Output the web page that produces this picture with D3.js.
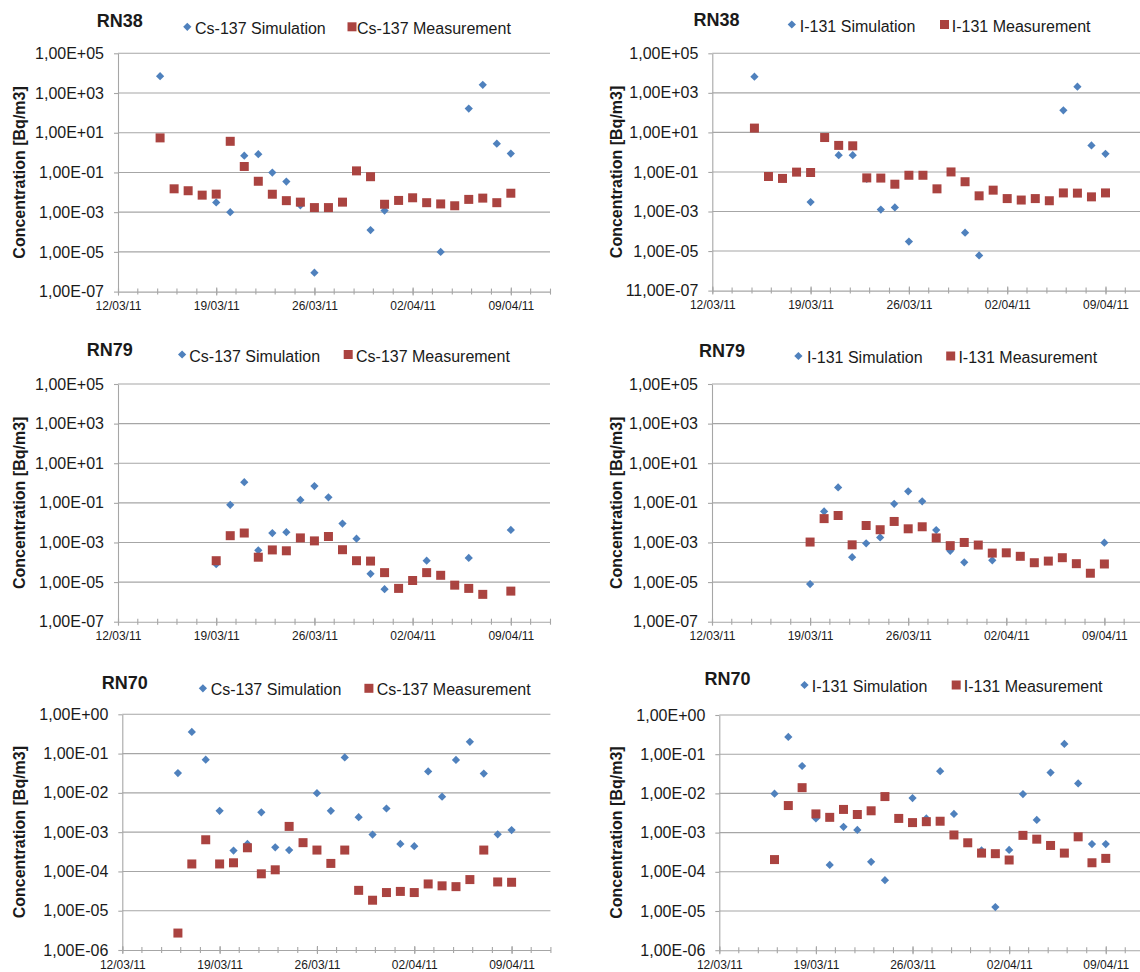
<!DOCTYPE html>
<html>
<head>
<meta charset="utf-8">
<script src="https://cdn.jsdelivr.net/npm/d3@7"></script>
<style>
body { margin: 0; background: #fff; }
text { font-family: "Liberation Sans", Arial, sans-serif; fill: #1a1a1a; }
</style>
</head>
<body>
<div id="chart"></div>
<script>
// days with samples (RN38 / RN79)
var dates = ["15/03/11","16/03/11","17/03/11","18/03/11","19/03/11","20/03/11","21/03/11","22/03/11",
    "23/03/11","24/03/11","25/03/11","26/03/11","27/03/11","28/03/11","29/03/11","30/03/11","31/03/11",
    "01/04/11","02/04/11","03/04/11","04/04/11","05/04/11","06/04/11","07/04/11","08/04/11","09/04/11"]
// days with samples (RN70)
var dates70 = ["16/03/11","17/03/11","18/03/11","19/03/11","20/03/11","21/03/11","22/03/11",
    "23/03/11","24/03/11","25/03/11","26/03/11","27/03/11","28/03/11","29/03/11","30/03/11","31/03/11",
    "01/04/11","02/04/11","03/04/11","04/04/11","05/04/11","06/04/11","07/04/11","08/04/11","09/04/11"]

var xTickLabels = ["12/03/11","19/03/11","26/03/11","02/04/11","09/04/11"]
var yTicksWide = [1e-7, 1e-5, 1e-3, 1e-1, 1e1, 1e3, 1e5]
var yLabelsWide = ["1,00E-07","1,00E-05","1,00E-03","1,00E-01","1,00E+01","1,00E+03","1,00E+05"]
var yLabelsWideRN38I = ["11,00E-07","1,00E-05","1,00E-03","1,00E-01","1,00E+01","1,00E+03","1,00E+05"]
var yTicksNarrow = [1e-6, 1e-5, 1e-4, 1e-3, 1e-2, 1e-1, 1]
var yLabelsNarrow = ["1,00E-06","1,00E-05","1,00E-04","1,00E-03","1,00E-02","1,00E-01","1,00E+00"]

var rn38CsSim  = [7e3,null,null,null,3.1e-3,1e-3,0.7,0.83,0.098,0.035,2.2e-3,9e-7,null,null,null,1.25e-4,1.2e-3,null,null,null,1e-5,null,166,2600,2.8,0.89]
var rn38CsMeas = [5.5,0.015,0.012,7.2e-3,8.1e-3,3.7,0.2,0.036,8e-3,3.8e-3,3.2e-3,1.7e-3,1.7e-3,3.2e-3,0.12,0.061,2.5e-3,3.9e-3,5.3e-3,3e-3,2.6e-3,2.1e-3,4.4e-3,5.1e-3,3e-3,9e-3]
var rn38ISim   = [6.6e3,null,null,null,3e-3,null,0.7,0.7,0.045,1.25e-3,1.6e-3,3e-5,null,null,null,8.5e-5,6e-6,null,null,null,null,null,130,2050,2.2,0.83]
var rn38IMeas  = [16.5,0.059,0.047,0.098,0.094,5.5,2.2,2.1,0.05,0.049,0.024,0.068,0.068,0.014,0.1,0.032,6.2e-3,0.012,4.5e-3,3.8e-3,4.5e-3,3.5e-3,8.7e-3,8.5e-3,5.5e-3,8.7e-3]

var rn79CsSim  = [null,null,null,null,8e-5,0.08,1.1,4e-4,3e-3,3.3e-3,0.14,0.7,0.19,9e-3,1.55e-3,2.6e-5,4.4e-6,null,null,1.2e-4,null,null,1.65e-4,null,null,4.3e-3]
var rn79CsMeas = [null,null,null,null,1.2e-4,2.2e-3,3e-3,1.8e-4,4.2e-4,3.8e-4,1.7e-3,1.2e-3,2e-3,4.3e-4,1.2e-4,1.15e-4,3e-5,4.8e-6,1.2e-5,3e-5,2.2e-5,7e-6,4.8e-6,2.4e-6,null,3.5e-6]
var rn79ISim   = [null,null,null,null,8e-6,0.037,0.6,1.8e-4,9e-4,1.8e-3,0.09,0.38,0.12,4.2e-3,3.8e-4,1e-4,null,1.25e-4,null,null,null,null,null,null,null,9.7e-4]
var rn79IMeas  = [null,null,null,null,1.05e-3,0.016,0.023,7.6e-4,7.2e-3,4.4e-3,0.0115,4.9e-3,6.2e-3,1.7e-3,6.9e-4,1e-3,7.4e-4,2.9e-4,3e-4,2e-4,9.5e-5,1.15e-4,1.7e-4,8.5e-5,2.8e-5,8.2e-5]

var rn70CsSim  = [0.032,0.355,0.07,3.5e-3,3.4e-4,5e-4,3.2e-3,4.1e-4,3.5e-4,null,9.8e-3,3.5e-3,0.08,2.4e-3,8.7e-4,4e-3,5e-4,4.4e-4,0.035,8e-3,0.069,0.2,0.031,8.8e-4,1.13e-3]
var rn70CsMeas = [2.7e-6,1.55e-4,6.4e-4,1.55e-4,1.66e-4,4e-4,8.7e-5,1.1e-4,1.4e-3,5.4e-4,3.5e-4,1.6e-4,3.5e-4,3.3e-5,1.85e-5,2.9e-5,3.1e-5,2.9e-5,4.8e-5,4.3e-5,4.1e-5,6.2e-5,3.5e-4,5.4e-5,5.3e-5]
var rn70ISim   = [9.8e-3,0.275,0.05,2.3e-3,1.5e-4,1.4e-3,1.17e-3,1.8e-4,6.1e-5,null,7.6e-3,2.3e-3,0.037,3e-3,null,3.5e-4,1.26e-5,3.6e-4,9.6e-3,2.1e-3,0.034,0.183,0.018,5.1e-4,5.1e-4]
var rn70IMeas  = [2.05e-4,4.9e-3,0.014,3e-3,2.45e-3,3.9e-3,2.9e-3,3.6e-3,8.3e-3,2.3e-3,1.8e-3,1.9e-3,1.95e-3,8.7e-4,5.5e-4,3e-4,2.9e-4,2e-4,8.5e-4,6.8e-4,4.7e-4,3e-4,7.8e-4,1.7e-4,2.2e-4]

var blue = "#4f81bd"
var red = "#aa4340"
var gridColor = "#a6a6a6"

var parseDate = d3.timeParse("%d/%m/%y")
var start = parseDate(xTickLabels[0])
var end = d3.timeHour.offset(start, 30.8 * 24)

var panels = [
    {title: "RN38", iso: "Cs-137", dates: dates, sim: rn38CsSim, meas: rn38CsMeas, yTicks: yTicksWide, yLabels: yLabelsWide,
     left: 118, right: 550, top: 53.3, bottom: 291.6, titleX: 96.7, titleY: 27.3, legY: 26.8, legBase: 34.3, diaX: 187.3, simX: 195, sqX: 352, measX: 357, titleCx: 19},
    {title: "RN38", iso: "I-131", dates: dates, sim: rn38ISim, meas: rn38IMeas, yTicks: yTicksWide, yLabels: yLabelsWideRN38I,
     left: 712.3, right: 1144.7, top: 53.3, bottom: 290.6, titleX: 693.6, titleY: 25.7, legY: 24.5, legBase: 31.7, diaX: 791.8, simX: 799.8, sqX: 944.5, measX: 951.8, titleCx: 616},
    {title: "RN79", iso: "Cs-137", dates: dates, sim: rn79CsSim, meas: rn79CsMeas, yTicks: yTicksWide, yLabels: yLabelsWide,
     left: 118, right: 550, top: 384, bottom: 621.7, titleX: 86.8, titleY: 356, legY: 354.5, legBase: 361.7, diaX: 182.1, simX: 189.3, sqX: 348.2, measX: 356, titleCx: 19},
    {title: "RN79", iso: "I-131", dates: dates, sim: rn79ISim, meas: rn79IMeas, yTicks: yTicksWide, yLabels: yLabelsWide,
     left: 712, right: 1143.5, top: 384, bottom: 621.7, titleX: 699, titleY: 357.3, legY: 356, legBase: 363.3, diaX: 798.4, simX: 807, sqX: 950.7, measX: 958.4, titleCx: 616},
    {title: "RN70", iso: "Cs-137", dates: dates70, sim: rn70CsSim, meas: rn70CsMeas, yTicks: yTicksNarrow, yLabels: yLabelsNarrow,
     left: 122.3, right: 550.4, top: 714.3, bottom: 950, titleX: 101.8, titleY: 689.3, legY: 688.3, legBase: 695, diaX: 202.9, simX: 210.7, sqX: 368.9, measX: 376.8, titleCx: 19.6},
    {title: "RN70", iso: "I-131", dates: dates70, sim: rn70ISim, meas: rn70IMeas, yTicks: yTicksNarrow, yLabels: yLabelsNarrow,
     left: 719.3, right: 1144.3, top: 715, bottom: 950.2, titleX: 704.5, titleY: 685, legY: 685, legBase: 692.3, diaX: 804.5, simX: 811.8, sqX: 956.2, measX: 963.8, titleCx: 616}
]

var svg = d3.select("#chart")
    .append("svg")
    .attr("width", 1140)
    .attr("height", 972)

var diamond = d3.symbol().type(d3.symbolSquare).size(34)
var square = d3.symbol().type(d3.symbolSquare).size(81)

panels.forEach(function(p){
    var g = svg.append("g")

    var x = d3.scaleTime()
        .domain([start, end])
        .range([p.left, p.right])

    var y = d3.scaleLog()
        .domain([p.yTicks[0], p.yTicks[p.yTicks.length - 1]])
        .range([p.bottom, p.top])

    // horizontal gridlines
    g.selectAll(".grid")
        .data(p.yTicks.slice(1))
        .enter().append("line")
        .attr("x1", p.left).attr("x2", p.right)
        .attr("y1", function(d){ return y(d) })
        .attr("y2", function(d){ return y(d) })
        .attr("stroke", gridColor)
        .attr("stroke-width", 1.1)

    // y axis
    var yAxis = g.append("g")
        .attr("transform", "translate(" + p.left + ",0)")
        .call(d3.axisLeft(y)
            .tickValues(p.yTicks)
            .tickFormat(function(d, i){ return p.yLabels[i] })
            .tickSize(4)
            .tickSizeOuter(0)
            .tickPadding(10))
    yAxis.select(".domain").attr("stroke", gridColor).attr("stroke-width", 1.1)
    yAxis.selectAll("line").attr("stroke", gridColor).attr("stroke-width", 1.1)
    yAxis.selectAll("text")
        .attr("font-size", "16px")
        .attr("font-family", "Liberation Sans, Arial, sans-serif")
        .attr("fill", "#1a1a1a")

    // x axis: minor ticks every 1.4 days
    var minor = []
    for (var k = 0; k <= 22; k++) minor.push(d3.timeHour.offset(start, k * 1.4 * 24))
    var xMinor = g.append("g")
        .attr("transform", "translate(0," + p.bottom + ")")
        .call(d3.axisBottom(x).tickValues(minor).tickFormat("").tickSize(3).tickSizeOuter(0))
    xMinor.select(".domain").attr("stroke", gridColor).attr("stroke-width", 1.1)
    xMinor.selectAll("line").attr("y1", -3).attr("stroke", gridColor).attr("stroke-width", 1.1)

    var xMajor = g.append("g")
        .attr("transform", "translate(0," + p.bottom + ")")
        .call(d3.axisBottom(x)
            .tickValues(xTickLabels.map(parseDate))
            .tickFormat(function(d, i){ return xTickLabels[i] })
            .tickSize(4)
            .tickSizeOuter(0)
            .tickPadding(6))
    xMajor.select(".domain").remove()
    xMajor.selectAll("line").attr("y1", -4).attr("stroke", gridColor).attr("stroke-width", 1.1)
    xMajor.selectAll("text")
        .attr("font-size", "12px")
        .attr("font-family", "Liberation Sans, Arial, sans-serif")
        .attr("fill", "#1a1a1a")

    // y axis title
    g.append("text")
        .attr("transform", "translate(" + p.titleCx + "," + ((p.top + p.bottom) / 2) + ") rotate(-90)")
        .attr("text-anchor", "middle")
        .attr("dy", "0.35em")
        .attr("font-size", "16px")
        .attr("font-weight", "bold")
        .text("Concentration [Bq/m3]")

    // title
    g.append("text")
        .attr("x", p.titleX).attr("y", p.titleY)
        .attr("font-size", "18px")
        .attr("font-weight", "bold")
        .text(p.title)

    // legend
    g.append("path")
        .attr("d", diamond)
        .attr("transform", "translate(" + p.diaX + "," + p.legY + ") rotate(45)")
        .attr("fill", blue)
    g.append("text")
        .attr("x", p.simX).attr("y", p.legBase)
        .attr("font-size", "16px")
        .text(p.iso + " Simulation")
    g.append("path")
        .attr("d", square)
        .attr("transform", "translate(" + p.sqX + "," + p.legY + ")")
        .attr("fill", red)
    g.append("text")
        .attr("x", p.measX).attr("y", p.legBase)
        .attr("font-size", "16px")
        .text(p.iso + " Measurement")

    // simulation diamonds
    g.selectAll(".sim")
        .data(p.sim.map(function(v, i){ return {date: parseDate(p.dates[i]), value: v} })
            .filter(function(d){ return d.value != null }))
        .enter().append("path")
        .attr("d", diamond)
        .attr("transform", function(d){ return "translate(" + x(d.date) + "," + y(d.value) + ") rotate(45)" })
        .attr("fill", blue)

    // measurement squares
    g.selectAll(".meas")
        .data(p.meas.map(function(v, i){ return {date: parseDate(p.dates[i]), value: v} })
            .filter(function(d){ return d.value != null }))
        .enter().append("path")
        .attr("d", square)
        .attr("transform", function(d){ return "translate(" + x(d.date) + "," + y(d.value) + ")" })
        .attr("fill", red)
})
</script>
</body>
</html>
